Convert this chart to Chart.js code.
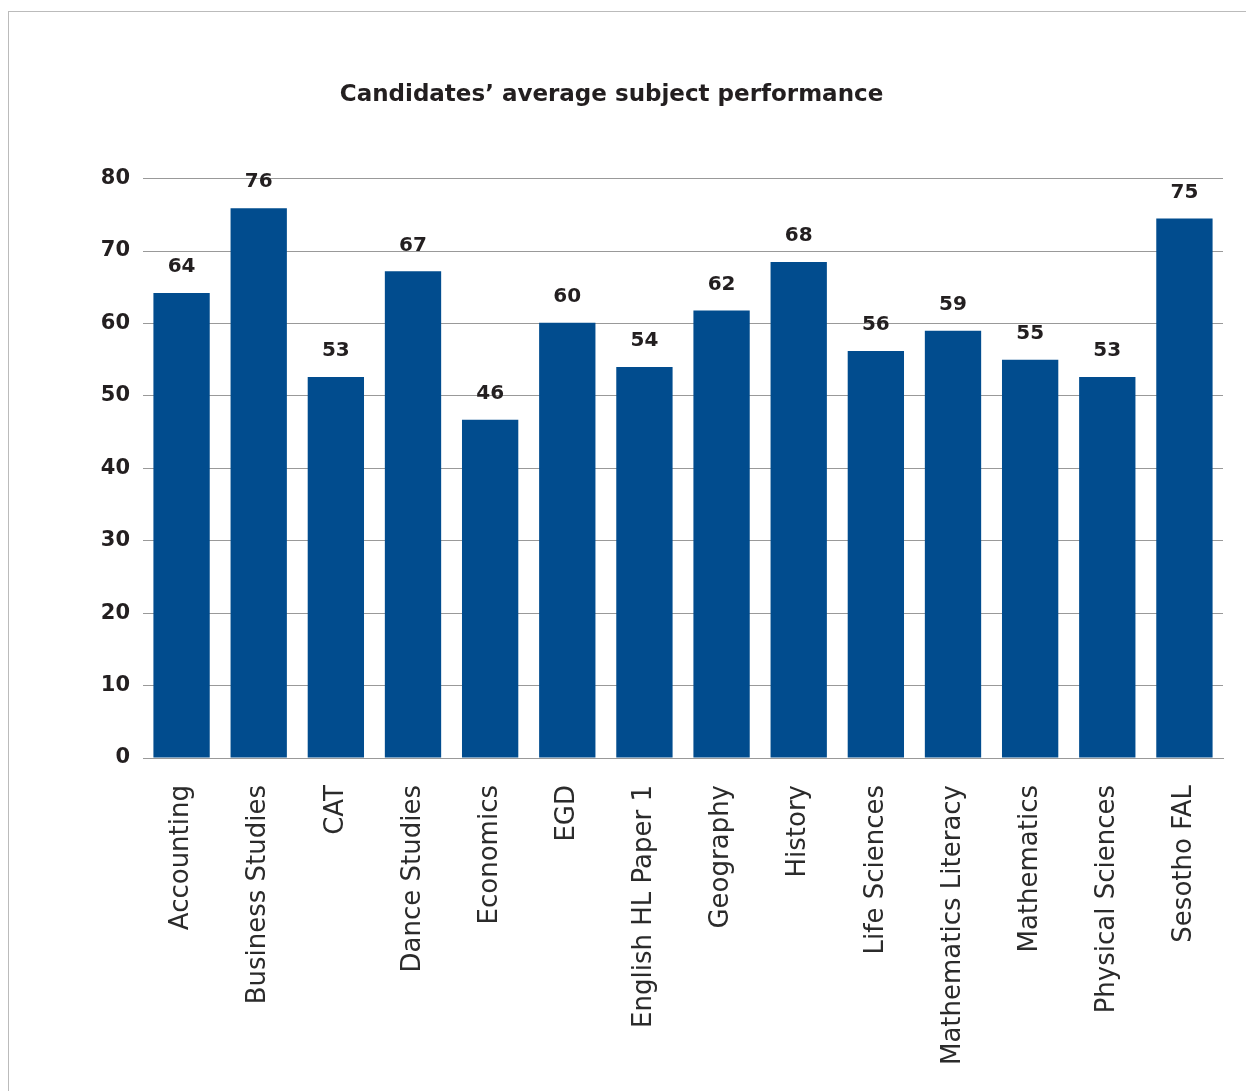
<!DOCTYPE html>
<html>
<head>
<meta charset="utf-8">
<script src="https://cdn.jsdelivr.net/npm/chart.js@4.4.0/dist/chart.umd.min.js"></script>
<style>
  html, body { margin: 0; padding: 0; background: #fff; }
  #wrap { position: relative; width: 1246px; height: 1091px; overflow: hidden; }
  #frame { position: absolute; left: 8px; top: 11px; width: 1300px; height: 1200px; border: 1px solid #bbb; }
  canvas { position: absolute; left: 0; top: 0; }
</style>
</head>
<body>
<div id="wrap">
  <div id="frame"></div>
  <canvas id="chart" width="1246" height="1091"></canvas>
</div>
<script>
const subjects = ['Accounting', 'Business Studies', 'CAT', 'Dance Studies', 'Economics', 'EGD',
  'English HL Paper 1', 'Geography', 'History', 'Life Sciences', 'Mathematics Literacy',
  'Mathematics', 'Physical Sciences', 'Sesotho FAL'];
const averages = [64.2, 75.9, 52.6, 67.2, 46.7, 60.1, 54.0, 61.8, 68.5, 56.2, 59.0, 55.0, 52.6, 74.5];
// labels as printed on the original chart
const valueLabels = ['64', '76', '53', '67', '46', '60', '54', '62', '68', '56', '59', '55', '53', '75'];

const fontFamily = "'DejaVu Sans', sans-serif";

// draws the number above each bar
const barValueLabels = {
  id: 'barValueLabels',
  afterDatasetsDraw(chart) {
    const ctx = chart.ctx;
    const meta = chart.getDatasetMeta(0);
    ctx.save();
    ctx.font = 'bold 20px ' + fontFamily;
    ctx.fillStyle = '#231f20';
    ctx.textAlign = 'center';
    ctx.textBaseline = 'bottom';
    meta.data.forEach((bar, i) => {
      ctx.fillText(valueLabels[i], bar.x, bar.y - 16);
    });
    ctx.restore();
  }
};

new Chart(document.getElementById('chart'), {
  type: 'bar',
  data: {
    labels: subjects,
    datasets: [{
      data: averages,
      backgroundColor: '#014c8e',
      borderWidth: 0,
      categoryPercentage: 0.73,
      barPercentage: 1.0
    }]
  },
  options: {
    responsive: false,
    animation: false,
    layout: { padding: { left: 0, right: 23, top: 0, bottom: 0 } },
    plugins: {
      legend: { display: false },
      tooltip: { enabled: false },
      title: {
        display: true,
        text: 'Candidates\u2019 average subject performance',
        color: '#231f20',
        font: { family: fontFamily, size: 23, weight: 'bold' },
        padding: { top: 81, bottom: 70 }
      }
    },
    scales: {
      x: {
        grid: { display: false },
        border: { display: true, color: '#999', width: 1 },
        ticks: {
          color: '#2b2b2b',
          font: { family: fontFamily, size: 26 },
          minRotation: 90,
          maxRotation: 90,
          autoSkip: false,
          padding: 19
        },
        afterFit(scale) { scale.height = 333; }
      },
      y: {
        min: 0,
        max: 80,
        grid: { color: '#999', lineWidth: 1, drawTicks: false },
        border: { display: false },
        ticks: {
          stepSize: 10,
          color: '#231f20',
          padding: 13,
          font: { family: fontFamily, size: 21, weight: 'bold' }
        },
        afterFit(scale) { scale.width = 143; }
      }
    }
  },
  plugins: [barValueLabels]
});
</script>
</body>
</html>
